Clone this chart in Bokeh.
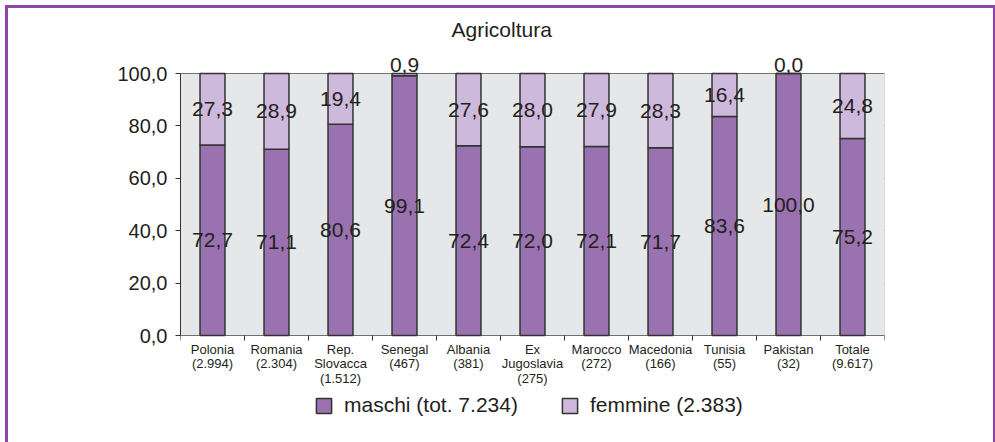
from bokeh.plotting import figure
from bokeh.models import (FixedTicker, ColumnDataSource, LabelSet, Legend, LegendItem, Range1d,
                          BoxAnnotation)
from bokeh.core.properties import value
from bokeh.embed import file_html
from bokeh.resources import INLINE

title = "Agricoltura"
countries = ["Polonia", "Romania", "Rep.\nSlovacca", "Senegal", "Albania", "Ex\nJugoslavia",
             "Marocco", "Macedonia", "Tunisia", "Pakistan", "Totale"]
totals = ["2.994", "2.304", "1.512", "467", "381", "275", "272", "166", "55", "32", "9.617"]
maschi = [72.7, 71.1, 80.6, 99.1, 72.4, 72.0, 72.1, 71.7, 83.6, 100.0, 75.2]
femmine = [27.3, 28.9, 19.4, 0.9, 27.6, 28.0, 27.9, 28.3, 16.4, 0.0, 24.8]
legend_maschi = "maschi (tot. 7.234)"
legend_femmine = "femmine (2.383)"
y_ticks = [0, 20, 40, 60, 80, 100]
y_max = 100

def fmt(v):
    return f"{v:.1f}".replace(".", ",")

n = len(countries)
xs = [i + 0.5 for i in range(n)]
tops = [m + f for m, f in zip(maschi, femmine)]
bounds = list(range(n + 1))

# label positions derived from data: middle of each segment, tiny values above the bar
m_lab_y = [m / 2 for m in maschi]
mid_x, mid_y, mid_t, top_x, top_y, top_t = [], [], [], [], [], []
for x, m, f, t in zip(xs, maschi, femmine, tops):
    if f < 5:
        top_x.append(x); top_y.append(t); top_t.append(fmt(f))
    else:
        mid_x.append(x); mid_y.append(m + f / 2); mid_t.append(fmt(f))

src = ColumnDataSource(dict(x=xs, m=maschi, top=tops,
                            mtxt=[fmt(v) for v in maschi], my=m_lab_y))
src_f_mid = ColumnDataSource(dict(x=mid_x, y=mid_y, t=mid_t))
src_f_top = ColumnDataSource(dict(x=top_x, y=top_y, t=top_t))

# category labels, one source per text line so that every line is centred
cat_lines = [f"{c}\n({t})".split("\n") for c, t in zip(countries, totals)]
max_lines = max(len(l) for l in cat_lines)
line_sources = []
for k in range(max_lines):
    lx = [x for x, l in zip(xs, cat_lines) if len(l) > k]
    lt = [l[k] for l in cat_lines if len(l) > k]
    line_sources.append(ColumnDataSource(dict(x=lx, y=[0] * len(lx), t=lt)))

DARK = "#231f20"
LINE = "#333333"
FONT = "Liberation Sans"
PURPLE_BORDER = "#8e45ab"

# layout: pixels per y unit, room above 100 and below 0 (for category labels + legend)
PX = 2.62
y_end = y_max + 28 / PX
y_start = -107 / PX
frame_h = round((y_end - y_start) * PX)
tick_len = 5 / PX
CAT_LINE_PX = 14.5

p = figure(width=988, height=437, output_backend="svg", toolbar_location=None,
           x_range=Range1d(0, n), y_range=Range1d(y_start, y_end),
           min_border_left=172, min_border_right=109, min_border_top=37, min_border_bottom=0,
           title=title)
p.frame_width = 704
p.frame_height = frame_h

p.styles = {"border-top": f"3px solid {PURPLE_BORDER}", "border-left": f"3px solid {PURPLE_BORDER}",
            "border-right": f"3px solid {PURPLE_BORDER}", "box-sizing": "border-box",
            "margin-left": "5px", "margin-top": "5px"}

p.title.align = "left"
p.title.offset = 271
p.title.text_font = FONT
p.title.text_font_size = "21px"
p.title.text_font_style = "normal"
p.title.text_color = DARK
p.title.standoff = 10

p.background_fill_color = "white"
p.border_fill_color = "white"
p.outline_line_color = None

p.add_layout(BoxAnnotation(left=0, right=n, bottom=0, top=y_max, fill_color="#e6e7e8",
                           fill_alpha=1, line_color=LINE, line_width=1, level="underlay"))

vb_m = p.vbar(x="x", bottom=0, top="m", width=0.39, source=src,
              fill_color="#9a72b0", line_color=LINE, line_width=1.5)
vb_f = p.vbar(x="x", bottom="m", top="top", width=0.39, source=src,
              fill_color="#cdb9dc", line_color=LINE, line_width=1.5)

# category ticks between the bars, below the baseline
p.segment(x0=bounds, y0=[0] * len(bounds), x1=bounds, y1=[-tick_len] * len(bounds),
          line_color=LINE, line_width=1)

# y axis
p.yaxis.ticker = FixedTicker(ticks=y_ticks)
p.yaxis.bounds = (0, y_max)
p.yaxis.major_label_overrides = {v: fmt(v) for v in y_ticks}
p.yaxis.major_label_text_font = FONT
p.yaxis.major_label_text_font_size = "20px"
p.yaxis.major_label_text_color = DARK
p.yaxis.major_tick_out = 5
p.yaxis.major_tick_in = 0
p.yaxis.minor_tick_line_color = None
p.yaxis.axis_line_color = LINE
p.yaxis.major_tick_line_color = LINE
p.yaxis.major_label_standoff = 8

p.xaxis.visible = False
p.xgrid.grid_line_color = None
p.ygrid.ticker = FixedTicker(ticks=y_ticks)
p.ygrid.grid_line_color = LINE
p.ygrid.grid_line_width = 1

for k, ls in enumerate(line_sources):
    p.add_layout(LabelSet(x="x", y="y", text="t", source=ls, text_align="center",
                          text_baseline="top", y_offset=-6 - k * CAT_LINE_PX,
                          text_font=value(FONT), text_font_size=value("13px"), text_color=DARK))

lab_kw = dict(text_align="center", text_font=value(FONT), text_font_size=value("21px"),
              text_color=DARK)
p.add_layout(LabelSet(x="x", y="my", text="mtxt", source=src, text_baseline="middle", **lab_kw))
p.add_layout(LabelSet(x="x", y="y", text="t", source=src_f_mid, text_baseline="middle", **lab_kw))
p.add_layout(LabelSet(x="x", y="y", text="t", source=src_f_top, text_baseline="bottom",
                      y_offset=2, **lab_kw))

legend = Legend(items=[LegendItem(label=legend_maschi, renderers=[vb_m]),
                       LegendItem(label=legend_femmine, renderers=[vb_f])],
                orientation="horizontal", location=(134, 25),
                padding=0, margin=0, spacing=42, label_standoff=11,
                glyph_width=19, glyph_height=19, label_height=19,
                label_text_font=FONT, label_text_font_size="21px", label_text_color=DARK,
                label_text_baseline="middle",
                border_line_color=None, background_fill_alpha=0)
p.add_layout(legend)

open("out.html", "w").write(file_html(p, INLINE))
